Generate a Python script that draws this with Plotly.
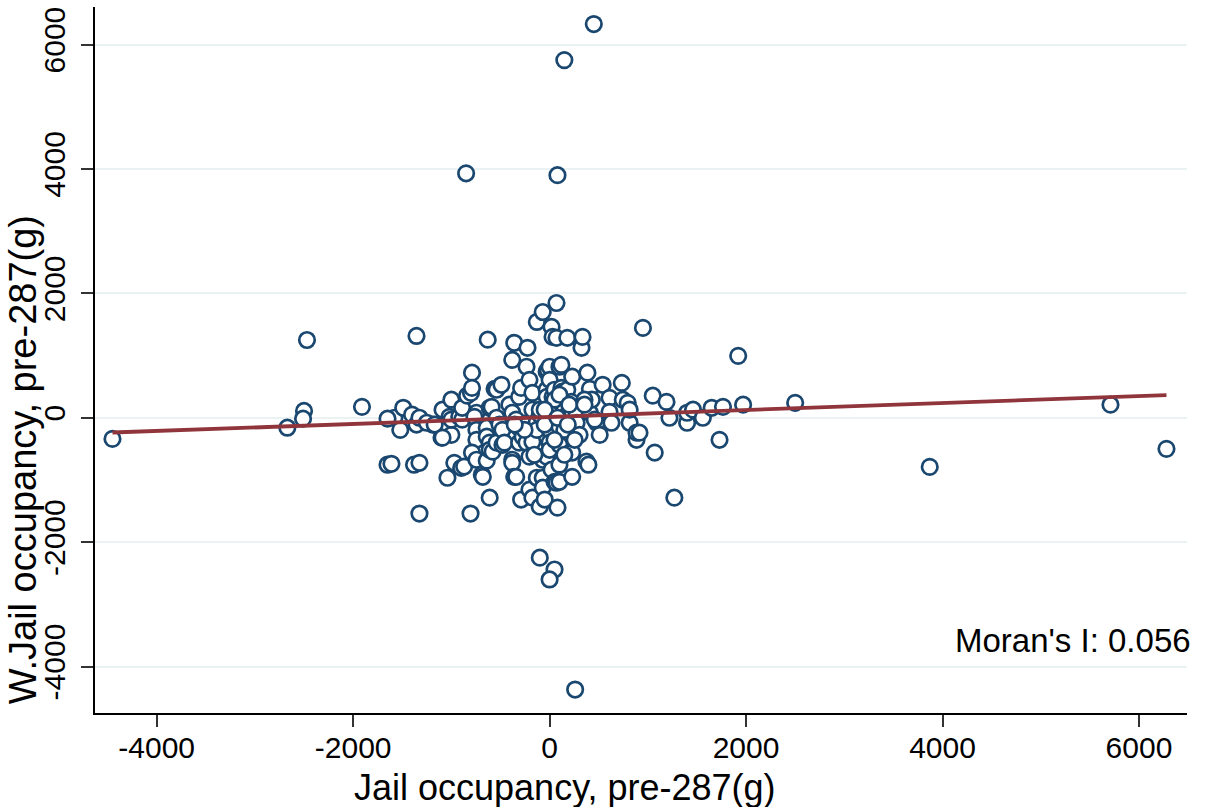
import plotly.graph_objects as go

# Jail occupancy, pre-287(g) (x) vs spatial lag W.Jail occupancy (y)
x_vals = [
    450, 150, -850, 80, -100, 50, 0, 260, -4450, -2470, -2500, -2510, -2670, -1910, -1650,
    950, 1920, 2500, 3870, 5710, 6280, 1270,
    -1355, -1580, -1490, -1400, -1520, -1355, -1190, -1100, -1000, -1650, -1610, -1380, -1325,
    -1325, -1325, -1250, -1170, -1090, -1090, -1000, -1020, -1040, -1000,
    -920, -890, -890, -840, -800, -790, -790, -745, -765, -745, -745, -790, -970, -900, -870,
    -805, -745, -690, -680, -640, -640, -640, -630, -610, -610, -610, -610, -590, -580, -560,
    -540, -540, -540, -510, -490, -480, -480,
    -460, -410, -380, -380, -380, -380, -360, -360, -340, -340, -310, -310, -310, -290, -290,
    -275, -235, -235, -225, -225, -205, -205, -205, -175, -175, -175, -175, -175, -130, -130,
    -130, -130, -100, -70, -70, -70, -70, -50, -30, -30, -30, -30, -20, 0, 0, 0, 0, 0, 0, 0,
    20, 20, 30, 30, 50, 50, 70, 70, 70, 80, 100, 100, 100, 100, 100, 120, 120, 130, 150, 180,
    180, 220, 220, 230, 230, 230, 230, 275, 275, 305, 325, 335, 375, 385, 395, 410, 410, 430,
    480, 510, 540, 610, 610, 630, 735, 745, 795, 815, 815, 885, 885, 915, 1050, 1070, 1190,
    1220, 1400, 1400, 1460, 1560, 1650, 1730, 1765, 1970,
    -100, -50, 50, 100, 150, 200, 255, -100, -255, -355, -50, 50, 150, -155, 80, 185, 355,
    355, 460, 510,
]
y_vals = [
    6330, 5750, 3930, 3900, -2250, -2440, -2600, -4370, -340, 1250, 110, -15, -160, 175, -755,
    1445, 995, 240, -790, 210, -500, -1285,
    1315, 0, 160, 50, -195, -110, -110, -320, -275, -15, -740, -755, -1540,
    0, -725, -80, -110, 130, -320, 290, 15, -965, -30,
    15, -30, 160, 355, 400, 725, 480, 80, 15, -195, -355, -560, -725, -805, -785,
    -1540, -675, -915, -950, -160, -305, -690, 1255, 160, -400, -515, -1285, 175, -545, 465,
    450, 0, -400, -110, 530, -195, -435,
    -400, 210, 930, 80, -675, -725, 1205, -950, -30, -950, 335, -160, -400, 480, -1315,
    -305, 820, -400, 1125, -80, 610, -625, -1155, 400, 130, -195, -385, -1285, 1540, -65,
    -195, -965, -1430, 1700, -675, -965, -1125, -1315, 740, 450, 335, -625, 770, 820, 610,
    130, 80, -195, -400, -515,
    1460, -835, 1300, 335, 450, -1030, 1845, 1285, -1045, -1445, 820, -145, -435, -755, -1030,
    850, 480, 420, 15, 1285, 450, 255, -545, 660, 95, -560, -950, 50, -80, -275, 1125, 1300,
    -705, 725, -755, 465, 80, 290, -80, -275, 530, 320, 95, -80, 560, 290, 240, -80, 130,
    -355, -240, -240, 355, -560, 255, 0, -80, 80, 130, 0, 160, -355, 175,
    210, 50, -110, 290, 370, -195, 210, -355, 130, -195, -110, 130, -355, -595, -595, 0, -110,
    290, 210, -30,
]

# Fitted line (slope = Moran's I)
fit_slope = 0.056
fit_intercept = 12
moran_label = "Moran's I: 0.056"

x_ticks = [-4000, -2000, 0, 2000, 4000, 6000]
y_ticks = [-4000, -2000, 0, 2000, 4000, 6000]
x_tick_labels = ["-4000", "-2000", "0", "2000", "4000", "6000"]
y_tick_labels = ["-4000", "-2000", "0", "2000", "4000", "6000"]

x_title = "Jail occupancy, pre-287(g)"
y_title = "W.Jail occupancy, pre-287(g)"

FONT = "Liberation Sans, Arial, Helvetica, sans-serif"

n = min(len(x_vals), len(y_vals))
xs = x_vals[:n]
ys = y_vals[:n]

x_lo, x_hi = min(xs), max(xs)

fig = go.Figure()
fig.add_trace(go.Scatter(
    x=xs, y=ys, mode="markers",
    marker=dict(symbol="circle", size=15.5, color="white",
                line=dict(color="#1a476f", width=2.7)),
    showlegend=False, hoverinfo="x+y",
))
fig.add_trace(go.Scatter(
    x=[x_lo, x_hi],
    y=[fit_intercept + fit_slope * x_lo, fit_intercept + fit_slope * x_hi],
    mode="lines", line=dict(color="#90353b", width=3.8),
    showlegend=False, hoverinfo="skip",
))

fig.update_layout(
    width=1209, height=807,
    margin=dict(l=95, r=22, t=7, b=94, autoexpand=False),
    paper_bgcolor="white", plot_bgcolor="white",
    font=dict(family=FONT, size=30, color="black"),
    xaxis=dict(
        range=[-4628, 6489], tickvals=x_ticks, ticktext=x_tick_labels,
        showgrid=False, zeroline=False, automargin=False,
        showline=True, linecolor="black", linewidth=2,
        ticks="outside", ticklen=12, tickwidth=2, tickcolor="#333333",
        tickfont=dict(size=30), ticklabelstandoff=-5,
    ),
    yaxis=dict(
        range=[-4747, 6604], tickvals=y_ticks, ticktext=y_tick_labels,
        showgrid=True, automargin=False,
        gridcolor="#eaf2f3", gridwidth=2, zeroline=False,
        showline=True, linecolor="black", linewidth=2,
        ticks="outside", ticklen=12, tickwidth=2, tickcolor="#333333",
        tickangle=-90, tickfont=dict(size=30), ticklabelstandoff=4,
    ),
    annotations=[
        dict(text=x_title, xref="paper", yref="paper", x=0.4304, y=-0.1062,
             xanchor="center", yanchor="middle", showarrow=False,
             font=dict(size=36, family=FONT)),
        dict(text=y_title, xref="paper", yref="paper", x=-0.0659, y=0.358,
             xanchor="center", yanchor="middle", showarrow=False, textangle=-90,
             font=dict(size=38, family=FONT)),
        dict(text=moran_label, xref="paper", yref="paper", x=1.0055, y=0.102,
             xanchor="right", yanchor="middle", showarrow=False,
             font=dict(size=33, family=FONT)),
    ],
)

fig.write_html(
    "out.html",
    config={"displayModeBar": False},
    post_script="document.body.style.margin='0';document.body.style.overflow='hidden';",
)
